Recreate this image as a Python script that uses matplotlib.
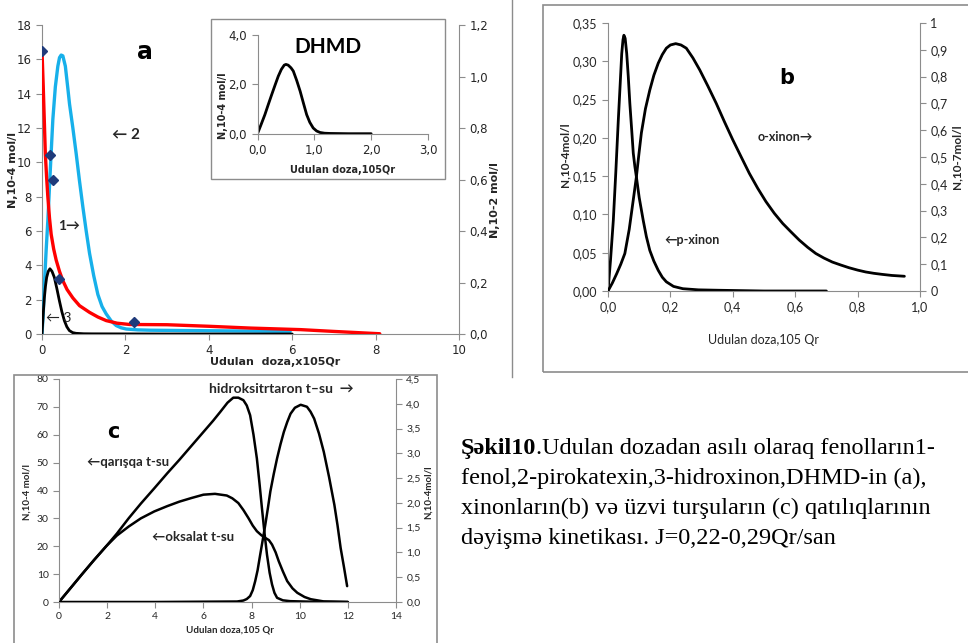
import numpy as np
import matplotlib.pyplot as plt
from matplotlib.patches import Rectangle
from matplotlib.lines import Line2D

W, H = 968, 643
GRAY = '#8c8c8c'
TXT = '#262626'
ARROWFONT = ['Lato', 'DejaVu Sans']

# ---- panel a: phenols (x = absorbed dose, 10^5 Gy) ----
a_blue_x = [0, 0.03, 0.06, 0.1, 0.14, 0.2, 0.26, 0.32, 0.38, 0.42, 0.46, 0.5, 0.56, 0.62, 0.66, 0.74, 0.82,
            0.9, 0.98, 1.06, 1.14, 1.24, 1.34, 1.44, 1.54, 1.66, 1.78, 1.9, 2.02, 2.3, 2.6, 3.5, 4.5, 5.95]
a_blue_y = [0, 1.2, 3.0, 4.9, 6.6, 9.6, 12.5, 14.4, 15.6, 16.1, 16.25, 16.2, 15.6, 14.3, 13.4, 12.0, 10.5,
            8.9, 7.4, 6.0, 4.7, 3.4, 2.3, 1.6, 1.17, 0.76, 0.49, 0.36, 0.29, 0.24, 0.22, 0.2, 0.18, 0.15]
# fenol, right axis (10^-2 mol/l)
a_red_x = [0, 0.015, 0.03, 0.055, 0.08, 0.11, 0.14, 0.18, 0.22, 0.28, 0.34, 0.42, 0.5, 0.6, 0.74, 0.9,
           1.14, 1.34, 1.54, 1.8, 2.1, 3.0, 4.0, 5.0, 6.2, 7.0, 8.1]
a_red_y = [1.10, 1.03, 0.96, 0.83, 0.70, 0.61, 0.533, 0.45, 0.387, 0.33, 0.287, 0.243, 0.207, 0.173, 0.14, 0.11,
           0.084, 0.066, 0.052, 0.042, 0.037, 0.036, 0.03, 0.023, 0.017, 0.01, 0.001]
a_mark_x = [0, 0.18, 0.26, 0.40, 2.2]
a_mark_y = [1.10, 0.697, 0.60, 0.213, 0.048]
a_black_x = [0, 0.03, 0.056, 0.084, 0.112, 0.15, 0.19, 0.24, 0.296, 0.356, 0.416, 0.476, 0.536, 0.596,
             0.656, 0.736, 0.816, 1.0, 1.2, 3.0, 6.0]
a_black_y = [0, 1.2, 2.1, 2.8, 3.3, 3.65, 3.8, 3.65, 3.3, 2.65, 1.95, 1.3, 0.78, 0.42,
             0.2, 0.08, 0.04, 0.015, 0.01, 0, 0]
# inset DHMD
d_x = [0, 0.065, 0.13, 0.19, 0.25, 0.31, 0.365, 0.42, 0.47, 0.5, 0.54, 0.59, 0.63, 0.69, 0.75, 0.81,
       0.865, 0.92, 0.98, 1.04, 1.1, 1.18, 1.28, 1.6, 2.0]
d_y = [0, 0.38, 0.77, 1.18, 1.58, 1.97, 2.32, 2.6, 2.77, 2.8, 2.77, 2.66, 2.53, 2.15, 1.72, 1.22,
       0.77, 0.46, 0.23, 0.11, 0.05, 0.02, 0.01, 0, 0]

# ---- panel b: quinones ----
p_x = [0, 0.008, 0.017, 0.025, 0.033, 0.039, 0.044, 0.048, 0.051, 0.055, 0.06, 0.065, 0.07, 0.076, 0.081,
       0.086, 0.091, 0.1, 0.113, 0.123, 0.134, 0.147, 0.161, 0.174, 0.187, 0.21, 0.24, 0.29, 0.35, 0.5, 0.7]
p_y = [0, 0.04, 0.092, 0.155, 0.223, 0.27, 0.31, 0.328, 0.334, 0.33, 0.31, 0.28, 0.245, 0.21, 0.18,
       0.163, 0.149, 0.122, 0.092, 0.071, 0.053, 0.039, 0.027, 0.018, 0.012, 0.006, 0.003, 0.0015, 0.001, 0, 0]
o_x = [0, 0.014, 0.028, 0.041, 0.054, 0.068, 0.081, 0.091, 0.099, 0.107, 0.12, 0.134, 0.147, 0.161, 0.174,
       0.187, 0.2, 0.217, 0.234, 0.251, 0.272, 0.294, 0.32, 0.347, 0.373, 0.4, 0.427, 0.453, 0.48, 0.506,
       0.533, 0.56, 0.587, 0.613, 0.64, 0.666, 0.692, 0.719, 0.746, 0.772, 0.8, 0.826, 0.852, 0.879, 0.91, 0.95]
o_y = [0, 0.03, 0.065, 0.1, 0.14, 0.23, 0.34, 0.426, 0.51, 0.59, 0.68, 0.75, 0.805, 0.85, 0.882,
       0.906, 0.918, 0.923, 0.918, 0.906, 0.87, 0.825, 0.765, 0.70, 0.632, 0.564, 0.5, 0.439, 0.383, 0.334,
       0.29, 0.252, 0.22, 0.19, 0.163, 0.14, 0.123, 0.108, 0.097, 0.087, 0.078, 0.071, 0.066, 0.062, 0.058, 0.055]

# ---- panel c: organic acids ----
q_x = [0, 0.5, 0.95, 1.45, 1.96, 2.4, 2.9, 3.4, 3.96, 4.5, 5.0, 5.5, 6.0, 6.4, 6.7, 7.0, 7.24, 7.45, 7.66,
       7.8, 7.94, 8.08, 8.22, 8.33, 8.43, 8.54, 8.64, 8.75, 8.85, 8.95, 9.06, 9.3, 9.6, 10.5, 12]
q_y = [0, 5.2, 9.9, 15, 20, 24.5, 30.1, 35.3, 40.8, 46.2, 51, 56, 61, 65, 68.2, 71.5, 73.3, 73.3, 72.4,
       70.5, 67, 60, 51.5, 42.5, 33.7, 24.5, 17, 10.5, 6.3, 3.3, 1.5, 0.6, 0.3, 0.1, 0]
ok_x = [0, 0.5, 0.95, 1.45, 1.96, 2.4, 2.9, 3.4, 3.96, 4.5, 5.0, 5.5, 6.0, 6.48, 6.97, 7.2, 7.45, 7.66, 7.87,
        8.05, 8.22, 8.4, 8.57, 8.72, 8.85, 9.0, 9.13, 9.3, 9.48, 9.7, 9.9, 10.2, 10.46, 11, 12]
ok_y = [0, 5.2, 9.9, 15, 20, 23.8, 27.1, 30, 32.5, 34.4, 36, 37.3, 38.5, 38.8, 38.2, 37.2, 35.5, 33, 30.1,
        27.4, 25.4, 24, 23, 22.2, 20.6, 17.8, 14.6, 11, 7.5, 4.9, 3.3, 1.8, 1, 0.2, 0]
h_x = [0, 4, 7.4, 7.66, 7.8, 7.94, 8.05, 8.15, 8.25, 8.36, 8.47, 8.57, 8.68, 8.78, 8.92, 9.06, 9.2, 9.34,
       9.48, 9.62, 9.8, 10.04, 10.3, 10.45, 10.6, 10.8, 11.0, 11.22, 11.44, 11.57, 11.7, 11.84, 11.97]
h_y = [0, 0, 0.01, 0.03, 0.06, 0.12, 0.24, 0.42, 0.64, 0.96, 1.27, 1.56, 1.9, 2.23, 2.58, 2.9, 3.18, 3.43,
       3.63, 3.8, 3.92, 3.98, 3.94, 3.84, 3.7, 3.4, 3.03, 2.52, 1.96, 1.55, 1.09, 0.7, 0.32]

fig = plt.figure(figsize=(W / 100, H / 100), dpi=100)


def box(x0, y0, x1, y1):
    # pixel coords -> figure fraction [left, bottom, width, height]
    return [x0 / W, 1 - y1 / H, (x1 - x0) / W, (y1 - y0) / H]


def ftext(x, y, s, **kw):
    kw.setdefault('va', 'center')
    kw.setdefault('color', TXT)
    return fig.text(x / W, 1 - y / H, s, **kw)


def style(ax, ax2, fs, family):
    for a in (ax, ax2):
        for sp in a.spines.values():
            sp.set_color(GRAY)
        a.spines['top'].set_visible(False)
        a.tick_params(colors=GRAY, labelcolor=TXT, labelsize=fs, length=4, width=0.8)
        for lb in a.get_xticklabels() + a.get_yticklabels():
            lb.set_family(family)
    ax.spines['right'].set_visible(False)
    ax2.spines['left'].set_visible(False)
    ax2.spines['bottom'].set_visible(False)


def comma(fmt):
    return lambda v, p: fmt.format(v).replace('.', ',')


LS = dict(solid_joinstyle='round', solid_capstyle='round')

# frames and divider
fig.add_artist(Line2D([512 / W, 512 / W], [1, 1 - 377 / H], color=GRAY, lw=1))
fig.add_artist(Rectangle((543 / W, 1 - 372 / H), 0.5, 367 / H, fill=False, ec=GRAY, lw=1.2))
fig.add_artist(Rectangle((14 / W, -0.05), 423 / W, 0.05 + 1 - 375 / H, fill=False, ec=GRAY, lw=1.2))

# ================= panel a =================
ax = fig.add_axes(box(42, 25, 459, 334))
ax2 = ax.twinx()
ax.plot(a_blue_x, a_blue_y, color='#17b0ea', lw=2.4, zorder=3, **LS)
ax.plot(a_black_x, a_black_y, color='black', lw=2.0, zorder=3, **LS)
ax2.plot(a_red_x, a_red_y, color='#ff0000', lw=2.4, zorder=4, **LS)
ax2.plot(a_mark_x, a_mark_y, ls='none', marker='D', ms=5.5, color='#1f3a7a', zorder=5)
ax.set_xlim(0, 10)
ax.set_ylim(0, 18)
ax2.set_ylim(0, 1.2)
ax.set_xticks(np.arange(0, 11, 2))
ax.set_yticks(np.arange(0, 19, 2))
ax2.set_yticks(np.arange(0, 1.21, 0.2))
ax2.yaxis.set_major_formatter(comma('{:.1f}'))
style(ax, ax2, 8.5, 'DejaVu Sans')
ax.patch.set_visible(False)
ax2.patch.set_visible(False)

ftext(13, 170, 'N,10-4 mol/l', rotation=90, ha='center', fontsize=8, fontweight='bold')
ftext(495, 200, 'N,10-2 mol/l', rotation=90, ha='center', fontsize=8, fontweight='bold')
ftext(275, 362, 'Udulan  doza,x105Qr', ha='center', fontsize=8, fontweight='bold')
ftext(145, 52, 'a', ha='center', fontsize=17, fontweight='bold', color='black')
ftext(112, 135, '← 2', ha='left', fontsize=11, fontweight='bold', family=ARROWFONT)
ftext(58, 226, '1→', ha='left', fontsize=10, fontweight='bold', family=ARROWFONT)
ftext(46, 318, '← 3', ha='left', fontsize=10, family=ARROWFONT)

# inset
fig.add_artist(Rectangle((211 / W, 1 - 179 / H), 234 / W, 160 / H, fc='white', ec=GRAY, lw=1.0, zorder=6))
axi = fig.add_axes(box(257.5, 34.7, 428, 133.7))
axi.set_zorder(7)
axi.plot(d_x, d_y, color='black', lw=2.0, **LS)
axi.set_xlim(0, 3)
axi.set_ylim(0, 4)
axi.set_xticks([0, 1, 2, 3])
axi.set_yticks([0, 2, 4])
axi.xaxis.set_major_formatter(comma('{:.1f}'))
axi.yaxis.set_major_formatter(comma('{:.1f}'))
axi.patch.set_visible(False)
for k in ('top', 'right'):
    axi.spines[k].set_visible(False)
for sp in axi.spines.values():
    sp.set_color(GRAY)
axi.tick_params(colors=GRAY, labelcolor=TXT, labelsize=8.5, length=4, width=0.8)
for lb in axi.get_xticklabels() + axi.get_yticklabels():
    lb.set_family('DejaVu Sans')
t = ftext(223, 106, 'N,10-4 mol/l', rotation=90, ha='center', fontsize=7, fontweight='bold')
t.set_zorder(8)
t = ftext(343, 170, 'Udulan doza,105Qr', ha='center', fontsize=7, fontweight='bold')
t.set_zorder(8)
t = ftext(328, 47, 'DHMD', ha='center', fontsize=15, fontweight='bold', family='Lato', color='black')
t.set_zorder(8)

# ================= panel b =================
bx = fig.add_axes(box(608, 23, 920, 291))
bx2 = bx.twinx()
bx.plot(p_x, p_y, color='black', lw=2.0, **LS)
bx2.plot(o_x, o_y, color='black', lw=2.0, **LS)
bx.set_xlim(0, 1.0)
bx.set_ylim(0, 0.35)
bx2.set_ylim(0, 1.0)
bx.set_xticks(np.arange(0, 1.01, 0.2))
bx.set_yticks(np.arange(0, 0.351, 0.05))
bx2.set_yticks(np.arange(0, 1.01, 0.1))
bx.xaxis.set_major_formatter(comma('{:.1f}'))
bx.yaxis.set_major_formatter(comma('{:.2f}'))
bx2.yaxis.set_major_formatter(lambda v, p: ('{:.1f}'.format(v).replace('.', ',') if 0 < v < 0.99 else '{:.0f}'.format(v)))
style(bx, bx2, 9, 'Lato')
ftext(565, 155, 'N,10-4mol/l', rotation=90, ha='center', fontsize=8.5, fontweight='bold', family='Lato')
ftext(957, 157, 'N,10-7mol/l', rotation=90, ha='center', fontsize=8.5, fontweight='bold', family='Lato')
ftext(763, 340, 'Udulan doza,105 Qr', ha='center', fontsize=9, family='Lato')
ftext(787, 78, 'b', ha='center', fontsize=15, fontweight='bold', color='black')
ftext(758, 137, 'o-xinon→', ha='left', fontsize=9, fontweight='bold', family=ARROWFONT)
ftext(664, 240, '←p-xinon', ha='left', fontsize=9, fontweight='bold', family=ARROWFONT)

# ================= panel c =================
cx = fig.add_axes(box(59, 379, 396, 602))
cx2 = cx.twinx()
cx.plot(q_x, q_y, color='black', lw=1.8, **LS)
cx.plot(ok_x, ok_y, color='black', lw=1.8, **LS)
cx2.plot(h_x, h_y, color='black', lw=1.8, **LS)
cx.set_xlim(0, 14)
cx.set_ylim(0, 80)
cx2.set_ylim(0, 4.5)
cx.set_xticks(np.arange(0, 15, 2))
cx.set_yticks(np.arange(0, 81, 10))
cx2.set_yticks(np.arange(0, 4.51, 0.5))
cx2.yaxis.set_major_formatter(comma('{:.1f}'))
style(cx, cx2, 7.5, 'Lato')
ftext(27, 492, 'N,10-4 mol/l', rotation=90, ha='center', fontsize=7, fontweight='bold', family='Lato')
ftext(428, 492, 'N,10-4mol/l', rotation=90, ha='center', fontsize=7, fontweight='bold', family='Lato')
ftext(230, 630, 'Udulan doza,105 Qr', ha='center', fontsize=7, fontweight='bold', family='Lato')
ftext(113, 432, 'c', ha='center', fontsize=15, fontweight='bold', color='black')
ftext(209, 389, 'hidroksitrtaron t–su  →', ha='left', fontsize=10, fontweight='bold', family=ARROWFONT)
ftext(87, 462, '←qarışqa t-su', ha='left', fontsize=9.5, fontweight='bold', family=ARROWFONT)
ftext(152, 537, '←oksalat t-su', ha='left', fontsize=9.5, fontweight='bold', family=ARROWFONT)

# ================= caption =================
cap_lines = ['.Udulan dozadan asılı olaraq fenolların1-',
             'fenol,2-pirokatexin,3-hidroxinon,DHMD-in (a),',
             'xinonların(b) və üzvi turşuların (c) qatılıqlarının',
             'dəyişmə kinetikası. J=0,22-0,29Qr/san']
cap_y = [454, 484, 514, 544]
serif = ['Liberation Serif', 'DejaVu Serif']
CFS = 17.5
bold = fig.text(461 / W, 1 - cap_y[0] / H, 'Şəkil10', fontsize=CFS, fontweight='bold',
                family=serif, va='baseline', color='black')
fig.canvas.draw()
bb = bold.get_window_extent()
fig.text(bb.x1 / W, 1 - cap_y[0] / H, cap_lines[0], fontsize=CFS, family=serif, va='baseline', color='black')
for s, y in zip(cap_lines[1:], cap_y[1:]):
    fig.text(461 / W, 1 - y / H, s, fontsize=CFS, family=serif, va='baseline', color='black')

fig.savefig('out.png', dpi=100)
